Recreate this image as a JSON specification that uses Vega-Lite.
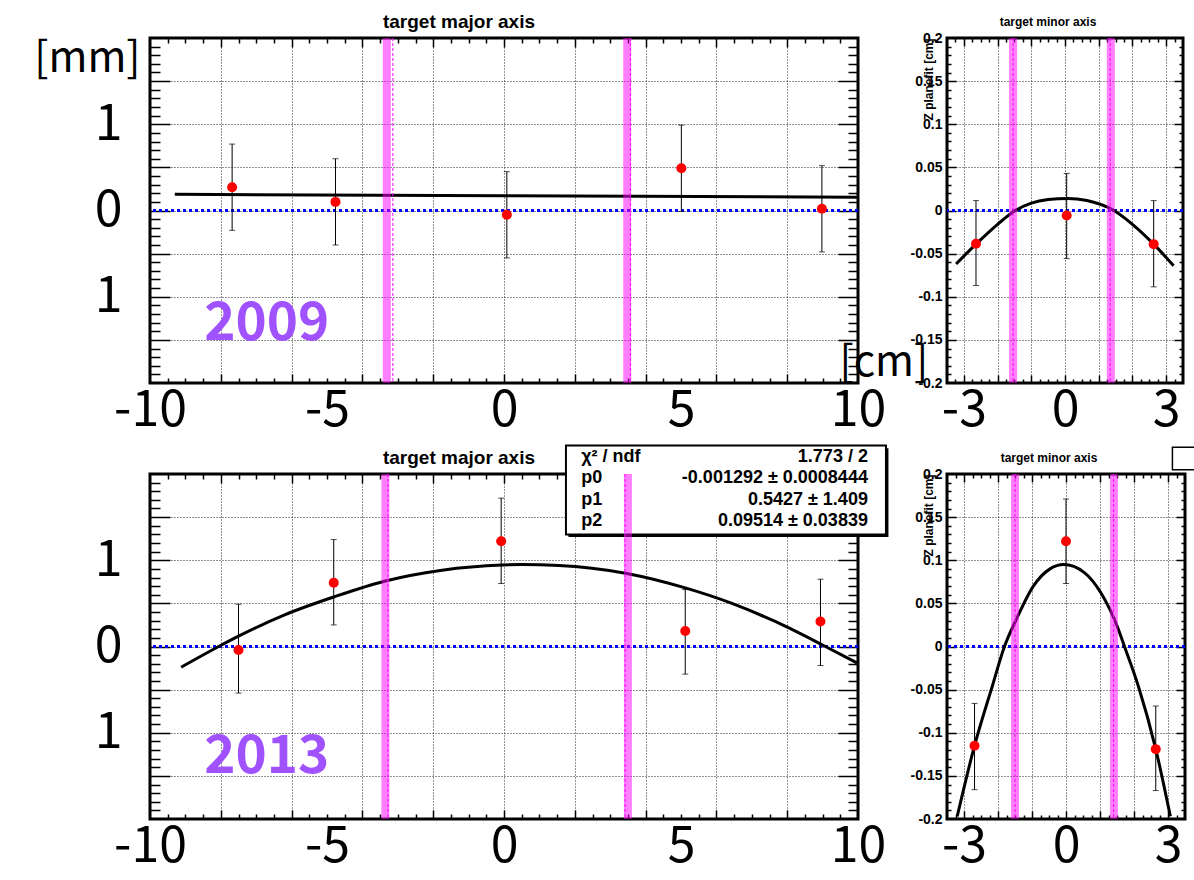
{
"$schema": "https://vega.github.io/schema/vega-lite/v6.json",
"background": "white",
"padding": {"left": 32, "top": 11, "right": 0, "bottom": 0},
"config": {"view": {"stroke": "black", "strokeWidth": 3}, "axis": {"labelColor": "black", "titleColor": "black", "tickColor": "black"}, "title": {"color": "black"}},
"datasets": {
"p09": [{"x": -7.68, "y": 0.27, "lo": -0.23, "hi": 0.77}, {"x": -4.76, "y": 0.10, "lo": -0.40, "hi": 0.60}, {"x": 0.08, "y": -0.05, "lo": -0.55, "hi": 0.45}, {"x": 5.01, "y": 0.49, "lo": -0.01, "hi": 0.99}, {"x": 8.98, "y": 0.02, "lo": -0.48, "hi": 0.52}],
"fit09": [{"x": -9.3, "y": 0.187}, {"x": 0, "y": 0.17}, {"x": 10, "y": 0.154}],
"b09": [{"band": -3.31, "edge": -3.14}, {"band": 3.48, "edge": 3.57}],
"pm09": [{"x": -2.64, "y": -0.0385, "lo": -0.087, "hi": 0.0115}, {"x": 0.05, "y": -0.0058, "lo": -0.0558, "hi": 0.043}, {"x": 2.63, "y": -0.039, "lo": -0.0885, "hi": 0.0115}],
"fitm09": [{"x": -3.23, "y": -0.062}, {"x": -2.64, "y": -0.039}, {"x": -2.0, "y": -0.016}, {"x": -1.55, "y": -0.002}, {"x": -1.0, "y": 0.0085}, {"x": -0.5, "y": 0.0127}, {"x": 0.08, "y": 0.014}, {"x": 0.65, "y": 0.0115}, {"x": 1.45, "y": 0.0}, {"x": 2.0, "y": -0.016}, {"x": 2.63, "y": -0.039}, {"x": 3.22, "y": -0.064}],
"bm09": [{"band": -1.54, "edge": -1.54}, {"band": 1.36, "edge": 1.34}],
"p13": [{"x": -7.5, "y": -0.04, "lo": -0.54, "hi": 0.49}, {"x": -4.81, "y": 0.74, "lo": 0.25, "hi": 1.24}, {"x": -0.08, "y": 1.22, "lo": 0.73, "hi": 1.72}, {"x": 5.12, "y": 0.18, "lo": -0.32, "hi": 0.66}, {"x": 8.94, "y": 0.29, "lo": -0.22, "hi": 0.78}],
"fit13": [{"x": -9.12, "y": -0.24}, {"x": -8.06, "y": 0.0}, {"x": -7.5, "y": 0.12}, {"x": -6.18, "y": 0.37}, {"x": -4.77, "y": 0.58}, {"x": -3.35, "y": 0.76}, {"x": -1.75, "y": 0.885}, {"x": -0.06, "y": 0.945}, {"x": 0.5, "y": 0.95}, {"x": 1.55, "y": 0.94}, {"x": 3.43, "y": 0.85}, {"x": 5.12, "y": 0.68}, {"x": 6.44, "y": 0.5}, {"x": 7.66, "y": 0.29}, {"x": 9.08, "y": 0.0}, {"x": 9.97, "y": -0.19}],
"b13": [{"band": -3.35, "edge": -3.28}, {"band": 3.5, "edge": 3.42}],
"pm13": [{"x": -2.69, "y": -0.115, "lo": -0.166, "hi": -0.066}, {"x": 0.0, "y": 0.122, "lo": 0.073, "hi": 0.171}, {"x": 2.64, "y": -0.119, "lo": -0.167, "hi": -0.069}],
"fitm13": [{"x": -3.2, "y": -0.197}, {"x": -2.69, "y": -0.115}, {"x": -2.16, "y": -0.045}, {"x": -1.81, "y": 0}, {"x": -1.46, "y": 0.0315}, {"x": -0.96, "y": 0.07}, {"x": -0.47, "y": 0.09}, {"x": -0.07, "y": 0.095}, {"x": 0.53, "y": 0.086}, {"x": 1.03, "y": 0.062}, {"x": 1.52, "y": 0.022}, {"x": 1.72, "y": 0}, {"x": 2.12, "y": -0.045}, {"x": 2.64, "y": -0.119}, {"x": 3.07, "y": -0.197}],
"bm13": [{"band": -1.5, "edge": -1.5}, {"band": 1.41, "edge": 1.4}],
"stats": [{"row": 0, "name": "χ² / ndf", "value": "1.773 / 2"}, {"row": 1, "name": "p0", "value": "-0.001292 ± 0.0008444"}, {"row": 2, "name": "p1", "value": "0.5427 ± 1.409"}, {"row": 3, "name": "p2", "value": "0.09514 ± 0.03839"}],
"y09": [{"label": "2009"}],
"y13": [{"label": "2013"}]
},
"columns": 2,
"spacing": {"row": 91, "column": 89},
"bounds": "flush",
"concat": [
{
"width": 708, "height": 345,
"title": {"text": "target major axis", "font": "Liberation Sans", "fontSize": 19, "fontWeight": "bold", "anchor": "middle", "dx": -45, "offset": -12.5, "baseline": "alphabetic"},
"resolve": {"axis": {"x": "independent", "y": "independent"}},
"layer": [
{"data": {"values": [{}]}, "mark": {"type": "rule", "color": "#0000ff", "strokeWidth": 3, "strokeDash": [3, 3]}, "encoding": {"y": {"datum": 0, "type": "quantitative", "scale": {"domain": [-2, 2], "nice": false, "zero": false}, "axis": null}}},
{"data": {"name": "fit09"}, "mark": {"type": "line", "color": "black", "strokeWidth": 3, "clip": true},
 "encoding": {
  "x": {"field": "x", "type": "quantitative", "scale": {"domain": [-10, 10], "nice": false, "zero": false}, "axis": {"orient": "bottom", "values": [-8, -6, -4, -2, 0, 2, 4, 6, 8], "grid": true, "gridColor": "#222", "gridDash": [1, 2], "gridWidth": 1, "ticks": true, "tickSize": -9, "tickWidth": 1.5, "labels": false, "domain": false, "title": null}},
  "y": {"field": "y", "type": "quantitative", "scale": {"domain": [-2, 2], "nice": false, "zero": false}, "axis": {"orient": "left", "values": [-1.5, -1, -0.5, 0, 0.5, 1, 1.5], "grid": true, "gridColor": "#222", "gridDash": [1, 2], "gridWidth": 1, "ticks": true, "tickSize": -20, "tickWidth": 1.5, "labels": false, "domain": false, "title": null}}}},
{"data": {"name": "b09"}, "mark": {"type": "rule", "color": "#ff00ff", "opacity": 0.5, "strokeWidth": 8}, "encoding": {"x": {"field": "band", "type": "quantitative", "axis": null}}},
{"data": {"name": "b09"}, "mark": {"type": "rule", "color": "#ff00ff", "strokeWidth": 1, "strokeDash": [3, 2]}, "encoding": {"x": {"field": "edge", "type": "quantitative", "axis": null}}},
{"data": {"name": "p09"}, "mark": {"type": "rule", "color": "black", "strokeWidth": 1},
 "encoding": {
  "x": {"field": "x", "type": "quantitative", "axis": {"orient": "bottom", "values": [-9.5, -9, -8.5, -7.5, -7, -6.5, -5.5, -5, -4.5, -3.5, -3, -2.5, -1.5, -1, -0.5, 0.5, 1, 1.5, 2.5, 3, 3.5, 4.5, 5, 5.5, 6.5, 7, 7.5, 8.5, 9, 9.5], "grid": false, "ticks": true, "tickSize": -5, "tickWidth": 1.5, "labels": false, "domain": false, "title": null}},
  "y": {"field": "lo", "type": "quantitative", "axis": {"orient": "left", "values": [-1.9, -1.8, -1.7, -1.6, -1.4, -1.3, -1.2, -1.1, -0.9, -0.8, -0.7, -0.6, -0.4, -0.3, -0.2, -0.1, 0.1, 0.2, 0.3, 0.4, 0.6, 0.7, 0.8, 0.9, 1.1, 1.2, 1.3, 1.4, 1.6, 1.7, 1.8, 1.9], "grid": false, "ticks": true, "tickSize": -10, "tickWidth": 1.5, "labels": false, "domain": false, "title": null}},
  "y2": {"field": "hi"}}},
{"data": {"name": "p09"}, "mark": {"type": "tick", "orient": "horizontal", "size": 6, "thickness": 1, "color": "black"},
 "encoding": {
  "x": {"field": "x", "type": "quantitative", "axis": {"orient": "top", "values": [-8, -6, -4, -2, 0, 2, 4, 6, 8], "grid": false, "ticks": true, "tickSize": -9, "tickWidth": 1.5, "labels": false, "domain": false, "title": null}},
  "y": {"field": "hi", "type": "quantitative", "axis": {"orient": "right", "values": [-1.5, -1, -0.5, 0, 0.5, 1, 1.5], "grid": false, "ticks": true, "tickSize": -20, "tickWidth": 1.5, "labels": false, "domain": false, "title": null}}}},
{"data": {"name": "p09"}, "mark": {"type": "tick", "orient": "horizontal", "size": 6, "thickness": 1, "color": "black"},
 "encoding": {
  "x": {"field": "x", "type": "quantitative", "axis": {"orient": "top", "values": [-9.5, -9, -8.5, -7.5, -7, -6.5, -5.5, -5, -4.5, -3.5, -3, -2.5, -1.5, -1, -0.5, 0.5, 1, 1.5, 2.5, 3, 3.5, 4.5, 5, 5.5, 6.5, 7, 7.5, 8.5, 9, 9.5], "grid": false, "ticks": true, "tickSize": -5, "tickWidth": 1.5, "labels": false, "domain": false, "title": null}},
  "y": {"field": "lo", "type": "quantitative", "axis": {"orient": "right", "values": [-1.9, -1.8, -1.7, -1.6, -1.4, -1.3, -1.2, -1.1, -0.9, -0.8, -0.7, -0.6, -0.4, -0.3, -0.2, -0.1, 0.1, 0.2, 0.3, 0.4, 0.6, 0.7, 0.8, 0.9, 1.1, 1.2, 1.3, 1.4, 1.6, 1.7, 1.8, 1.9], "grid": false, "ticks": true, "tickSize": -10, "tickWidth": 1.5, "labels": false, "domain": false, "title": null}}}},
{"data": {"name": "p09"}, "mark": {"type": "circle", "color": "#ff0000", "size": 100, "opacity": 1},
 "encoding": {
  "x": {"field": "x", "type": "quantitative", "axis": {"orient": "bottom", "values": [-10, -5, 0, 5, 10], "labelExpr": "datum.value + ''", "labelFont": "Noto Sans CJK JP", "labelFontSize": 50, "labelPadding": 2, "labelBaseline": "top", "labelOverlap": false, "labelFlush": false, "labelBound": false, "ticks": false, "grid": false, "domain": false, "title": "[cm]", "titleFont": "Noto Sans CJK JP", "titleFontSize": 42, "titleFontWeight": "normal", "titleAngle": 0, "titleAlign": "left", "titleBaseline": "alphabetic", "titleX": 689, "titleY": -8}},
  "y": {"field": "y", "type": "quantitative", "axis": {"orient": "left", "values": [-1, 0, 1], "labelExpr": "datum.value == 0 ? '0' : '1'", "labelFont": "Noto Sans CJK JP", "labelFontSize": 50, "labelPadding": 28, "labelAlign": "right", "labelBaseline": "middle", "labelOverlap": false, "labelFlush": false, "labelBound": false, "ticks": false, "grid": false, "domain": false, "title": "[mm]", "titleFont": "Noto Sans CJK JP", "titleFontSize": 42, "titleFontWeight": "normal", "titleAngle": 0, "titleAlign": "right", "titleBaseline": "alphabetic", "titleX": -10, "titleY": 33}}}},
{"data": {"name": "y09"}, "mark": {"type": "text", "font": "Noto Sans CJK JP", "fontSize": 53, "fontWeight": "bold", "color": "#a152ff", "align": "center", "baseline": "alphabetic"},
 "encoding": {"x": {"datum": -6.7, "type": "quantitative", "axis": null}, "y": {"datum": -1.5, "type": "quantitative", "axis": null}, "text": {"field": "label"}}}
]
},
{
"width": 236, "height": 345,
"title": {"text": "target minor axis", "font": "Liberation Sans", "fontSize": 12, "fontWeight": "bold", "anchor": "middle", "dx": -17, "offset": -6.5, "baseline": "alphabetic"},
"resolve": {"axis": {"x": "independent", "y": "independent"}},
"layer": [
{"data": {"values": [{}]}, "mark": {"type": "rule", "color": "#0000ff", "strokeWidth": 3, "strokeDash": [3, 3]}, "encoding": {"y": {"datum": 0, "type": "quantitative", "scale": {"domain": [-0.2, 0.2], "nice": false, "zero": false}, "axis": null}}},
{"data": {"name": "fitm09"}, "mark": {"type": "line", "color": "black", "strokeWidth": 3, "clip": true, "interpolate": "monotone"},
 "encoding": {
  "x": {"field": "x", "type": "quantitative", "scale": {"domain": [-3.5, 3.5], "nice": false, "zero": false}, "axis": {"orient": "bottom", "values": [-3, -2, -1, 0, 1, 2, 3], "grid": true, "gridColor": "#222", "gridDash": [1, 2], "gridWidth": 1, "ticks": true, "tickSize": -8, "tickWidth": 1.5, "labels": false, "domain": false, "title": null}},
  "y": {"field": "y", "type": "quantitative", "scale": {"domain": [-0.2, 0.2], "nice": false, "zero": false}, "axis": {"orient": "left", "values": [-0.15, -0.1, -0.05, 0, 0.05, 0.1, 0.15], "grid": true, "gridColor": "#222", "gridDash": [1, 2], "gridWidth": 1, "ticks": true, "tickSize": -9, "tickWidth": 1.5, "labels": false, "domain": false, "title": null}}}},
{"data": {"name": "bm09"}, "mark": {"type": "rule", "color": "#ff00ff", "opacity": 0.5, "strokeWidth": 8}, "encoding": {"x": {"field": "band", "type": "quantitative", "axis": null}}},
{"data": {"name": "bm09"}, "mark": {"type": "rule", "color": "#ff00ff", "strokeWidth": 1, "strokeDash": [3, 2]}, "encoding": {"x": {"field": "edge", "type": "quantitative", "axis": null}}},
{"data": {"name": "pm09"}, "mark": {"type": "rule", "color": "black", "strokeWidth": 1},
 "encoding": {
  "x": {"field": "x", "type": "quantitative", "axis": {"orient": "bottom", "values": [-3.25, -2.75, -2.5, -2.25, -1.75, -1.5, -1.25, -0.75, -0.5, -0.25, 0.25, 0.5, 0.75, 1.25, 1.5, 1.75, 2.25, 2.5, 2.75, 3.25], "grid": false, "ticks": true, "tickSize": -4, "tickWidth": 1.5, "labels": false, "domain": false, "title": null}},
  "y": {"field": "lo", "type": "quantitative", "axis": {"orient": "left", "values": [-0.19, -0.18, -0.17, -0.16, -0.14, -0.13, -0.12, -0.11, -0.09, -0.08, -0.07, -0.06, -0.04, -0.03, -0.02, -0.01, 0.01, 0.02, 0.03, 0.04, 0.06, 0.07, 0.08, 0.09, 0.11, 0.12, 0.13, 0.14, 0.16, 0.17, 0.18, 0.19], "grid": false, "ticks": true, "tickSize": -4, "tickWidth": 1.5, "labels": false, "domain": false, "title": null}},
  "y2": {"field": "hi"}}},
{"data": {"name": "pm09"}, "mark": {"type": "tick", "orient": "horizontal", "size": 6, "thickness": 1, "color": "black"},
 "encoding": {
  "x": {"field": "x", "type": "quantitative", "axis": {"orient": "top", "values": [-3, -2, -1, 0, 1, 2, 3], "grid": false, "ticks": true, "tickSize": -8, "tickWidth": 1.5, "labels": false, "domain": false, "title": null}},
  "y": {"field": "hi", "type": "quantitative", "axis": {"orient": "right", "values": [-0.15, -0.1, -0.05, 0, 0.05, 0.1, 0.15], "grid": false, "ticks": true, "tickSize": -9, "tickWidth": 1.5, "labels": false, "domain": false, "title": null}}}},
{"data": {"name": "pm09"}, "mark": {"type": "tick", "orient": "horizontal", "size": 6, "thickness": 1, "color": "black"},
 "encoding": {
  "x": {"field": "x", "type": "quantitative", "axis": {"orient": "top", "values": [-3.25, -2.75, -2.5, -2.25, -1.75, -1.5, -1.25, -0.75, -0.5, -0.25, 0.25, 0.5, 0.75, 1.25, 1.5, 1.75, 2.25, 2.5, 2.75, 3.25], "grid": false, "ticks": true, "tickSize": -4, "tickWidth": 1.5, "labels": false, "domain": false, "title": null}},
  "y": {"field": "lo", "type": "quantitative", "axis": {"orient": "right", "values": [-0.19, -0.18, -0.17, -0.16, -0.14, -0.13, -0.12, -0.11, -0.09, -0.08, -0.07, -0.06, -0.04, -0.03, -0.02, -0.01, 0.01, 0.02, 0.03, 0.04, 0.06, 0.07, 0.08, 0.09, 0.11, 0.12, 0.13, 0.14, 0.16, 0.17, 0.18, 0.19], "grid": false, "ticks": true, "tickSize": -4, "tickWidth": 1.5, "labels": false, "domain": false, "title": null}}}},
{"data": {"name": "pm09"}, "mark": {"type": "circle", "color": "#ff0000", "size": 100, "opacity": 1},
 "encoding": {
  "x": {"field": "x", "type": "quantitative", "axis": {"orient": "bottom", "values": [-3, 0, 3], "labelExpr": "datum.value + ''", "labelFont": "Noto Sans CJK JP", "labelFontSize": 50, "labelPadding": 2, "labelBaseline": "top", "labelOverlap": false, "labelFlush": false, "labelBound": false, "ticks": false, "grid": false, "domain": false, "title": null}},
  "y": {"field": "y", "type": "quantitative", "axis": {"orient": "left", "values": [-0.2, -0.15, -0.1, -0.05, 0, 0.05, 0.1, 0.15, 0.2], "labelExpr": "datum.value + ''", "labelFont": "Liberation Sans", "labelFontSize": 14, "labelFontWeight": "bold", "labelPadding": 5, "labelAlign": "right", "labelBaseline": "middle", "labelOverlap": false, "labelFlush": false, "labelBound": false, "ticks": false, "grid": false, "domain": false, "title": "Z planefit [cm]", "titleFont": "Liberation Sans", "titleFontSize": 12, "titleFontWeight": "bold", "titleAngle": 270, "titleAlign": "right", "titleBaseline": "alphabetic", "titleX": -15, "titleY": 0}}}}
]
},
{
"width": 708, "height": 345,
"title": {"text": "target major axis", "font": "Liberation Sans", "fontSize": 19, "fontWeight": "bold", "anchor": "middle", "dx": -45, "offset": -38.5, "baseline": "alphabetic"},
"resolve": {"axis": {"x": "independent", "y": "independent"}},
"layer": [
{"data": {"values": [{}]}, "mark": {"type": "rect", "fill": "black"},
 "encoding": {"x": {"datum": 1.82, "type": "quantitative", "scale": {"domain": [-10, 10], "nice": false, "zero": false}, "axis": null}, "x2": {"datum": 10.86}, "y": {"datum": 2.30, "type": "quantitative", "scale": {"domain": [-2, 2], "nice": false, "zero": false}, "axis": null}, "y2": {"datum": 1.27}}},
{"data": {"values": [{}]}, "mark": {"type": "rect", "fill": "white", "stroke": "black", "strokeWidth": 2},
 "encoding": {"x": {"datum": 1.75, "type": "quantitative", "axis": null}, "x2": {"datum": 10.79}, "y": {"datum": 2.33, "type": "quantitative", "axis": null}, "y2": {"datum": 1.30}}},
{"data": {"name": "stats"}, "mark": {"type": "text", "align": "left", "baseline": "alphabetic", "font": "Liberation Sans", "fontSize": 18, "fontWeight": "bold", "color": "black"},
 "encoding": {"x": {"datum": 2.18, "type": "quantitative", "axis": null}, "y": {"datum": 2.14, "type": "quantitative", "axis": null}, "yOffset": {"field": "row", "type": "quantitative", "scale": {"domain": [0, 3], "range": [0, 64.5]}}, "text": {"field": "name"}}},
{"data": {"name": "stats"}, "mark": {"type": "text", "align": "right", "baseline": "alphabetic", "font": "Liberation Sans", "fontSize": 18, "fontWeight": "bold", "color": "black"},
 "encoding": {"x": {"datum": 10.28, "type": "quantitative", "axis": null}, "y": {"datum": 2.14, "type": "quantitative", "axis": null}, "yOffset": {"field": "row", "type": "quantitative", "scale": {"domain": [0, 3], "range": [0, 64.5]}}, "text": {"field": "value"}}},
{"data": {"values": [{}]}, "mark": {"type": "rule", "color": "#0000ff", "strokeWidth": 3, "strokeDash": [3, 3]}, "encoding": {"y": {"datum": 0, "type": "quantitative", "axis": null}}},
{"data": {"name": "fit13"}, "mark": {"type": "line", "color": "black", "strokeWidth": 3, "clip": true, "interpolate": "monotone"},
 "encoding": {
  "x": {"field": "x", "type": "quantitative", "axis": {"orient": "bottom", "values": [-8, -6, -4, -2, 0, 2, 4, 6, 8], "grid": true, "gridColor": "#222", "gridDash": [1, 2], "gridWidth": 1, "ticks": true, "tickSize": -9, "tickWidth": 1.5, "labels": false, "domain": false, "title": null}},
  "y": {"field": "y", "type": "quantitative", "axis": {"orient": "left", "values": [-1.5, -1, -0.5, 0, 0.5, 1, 1.5], "grid": true, "gridColor": "#222", "gridDash": [1, 2], "gridWidth": 1, "ticks": true, "tickSize": -20, "tickWidth": 1.5, "labels": false, "domain": false, "title": null}}}},
{"data": {"name": "b13"}, "mark": {"type": "rule", "color": "#ff00ff", "opacity": 0.5, "strokeWidth": 8}, "encoding": {"x": {"field": "band", "type": "quantitative", "axis": null}}},
{"data": {"name": "b13"}, "mark": {"type": "rule", "color": "#ff00ff", "strokeWidth": 1, "strokeDash": [3, 2]}, "encoding": {"x": {"field": "edge", "type": "quantitative", "axis": null}}},
{"data": {"name": "p13"}, "mark": {"type": "rule", "color": "black", "strokeWidth": 1},
 "encoding": {
  "x": {"field": "x", "type": "quantitative", "axis": {"orient": "bottom", "values": [-9.5, -9, -8.5, -7.5, -7, -6.5, -5.5, -5, -4.5, -3.5, -3, -2.5, -1.5, -1, -0.5, 0.5, 1, 1.5, 2.5, 3, 3.5, 4.5, 5, 5.5, 6.5, 7, 7.5, 8.5, 9, 9.5], "grid": false, "ticks": true, "tickSize": -5, "tickWidth": 1.5, "labels": false, "domain": false, "title": null}},
  "y": {"field": "lo", "type": "quantitative", "axis": {"orient": "left", "values": [-1.9, -1.8, -1.7, -1.6, -1.4, -1.3, -1.2, -1.1, -0.9, -0.8, -0.7, -0.6, -0.4, -0.3, -0.2, -0.1, 0.1, 0.2, 0.3, 0.4, 0.6, 0.7, 0.8, 0.9, 1.1, 1.2, 1.3, 1.4, 1.6, 1.7, 1.8, 1.9], "grid": false, "ticks": true, "tickSize": -10, "tickWidth": 1.5, "labels": false, "domain": false, "title": null}},
  "y2": {"field": "hi"}}},
{"data": {"name": "p13"}, "mark": {"type": "tick", "orient": "horizontal", "size": 6, "thickness": 1, "color": "black"},
 "encoding": {
  "x": {"field": "x", "type": "quantitative", "axis": {"orient": "top", "values": [-8, -6, -4, -2, 0, 2, 4, 6, 8], "grid": false, "ticks": true, "tickSize": -9, "tickWidth": 1.5, "labels": false, "domain": false, "title": null}},
  "y": {"field": "hi", "type": "quantitative", "axis": {"orient": "right", "values": [-1.5, -1, -0.5, 0, 0.5, 1, 1.5], "grid": false, "ticks": true, "tickSize": -20, "tickWidth": 1.5, "labels": false, "domain": false, "title": null}}}},
{"data": {"name": "p13"}, "mark": {"type": "tick", "orient": "horizontal", "size": 6, "thickness": 1, "color": "black"},
 "encoding": {
  "x": {"field": "x", "type": "quantitative", "axis": {"orient": "top", "values": [-9.5, -9, -8.5, -7.5, -7, -6.5, -5.5, -5, -4.5, -3.5, -3, -2.5, -1.5, -1, -0.5, 0.5, 1, 1.5, 2.5, 3, 3.5, 4.5, 5, 5.5, 6.5, 7, 7.5, 8.5, 9, 9.5], "grid": false, "ticks": true, "tickSize": -5, "tickWidth": 1.5, "labels": false, "domain": false, "title": null}},
  "y": {"field": "lo", "type": "quantitative", "axis": {"orient": "right", "values": [-1.9, -1.8, -1.7, -1.6, -1.4, -1.3, -1.2, -1.1, -0.9, -0.8, -0.7, -0.6, -0.4, -0.3, -0.2, -0.1, 0.1, 0.2, 0.3, 0.4, 0.6, 0.7, 0.8, 0.9, 1.1, 1.2, 1.3, 1.4, 1.6, 1.7, 1.8, 1.9], "grid": false, "ticks": true, "tickSize": -10, "tickWidth": 1.5, "labels": false, "domain": false, "title": null}}}},
{"data": {"name": "p13"}, "mark": {"type": "circle", "color": "#ff0000", "size": 100, "opacity": 1},
 "encoding": {
  "x": {"field": "x", "type": "quantitative", "axis": {"orient": "bottom", "values": [-10, -5, 0, 5, 10], "labelExpr": "datum.value + ''", "labelFont": "Noto Sans CJK JP", "labelFontSize": 50, "labelPadding": 2, "labelBaseline": "top", "labelOverlap": false, "labelFlush": false, "labelBound": false, "ticks": false, "grid": false, "domain": false, "title": null}},
  "y": {"field": "y", "type": "quantitative", "axis": {"orient": "left", "values": [-1, 0, 1], "labelExpr": "datum.value == 0 ? '0' : '1'", "labelFont": "Noto Sans CJK JP", "labelFontSize": 50, "labelPadding": 28, "labelAlign": "right", "labelBaseline": "middle", "labelOverlap": false, "labelFlush": false, "labelBound": false, "ticks": false, "grid": false, "domain": false, "title": null}}}},
{"data": {"name": "y13"}, "mark": {"type": "text", "font": "Noto Sans CJK JP", "fontSize": 53, "fontWeight": "bold", "color": "#a152ff", "align": "center", "baseline": "alphabetic"},
 "encoding": {"x": {"datum": -6.7, "type": "quantitative", "axis": null}, "y": {"datum": -1.47, "type": "quantitative", "axis": null}, "text": {"field": "label"}}}
]
},
{
"width": 238, "height": 345,
"title": {"text": "target minor axis", "font": "Liberation Sans", "fontSize": 12, "fontWeight": "bold", "anchor": "middle", "dx": -17, "offset": -27, "baseline": "alphabetic"},
"resolve": {"axis": {"x": "independent", "y": "independent"}},
"layer": [
{"data": {"values": [{}]}, "mark": {"type": "rule", "color": "#0000ff", "strokeWidth": 3, "strokeDash": [3, 3]}, "encoding": {"y": {"datum": 0, "type": "quantitative", "scale": {"domain": [-0.2, 0.2], "nice": false, "zero": false}, "axis": null}}},
{"data": {"name": "fitm13"}, "mark": {"type": "line", "color": "black", "strokeWidth": 3, "clip": true, "interpolate": "monotone"},
 "encoding": {
  "x": {"field": "x", "type": "quantitative", "scale": {"domain": [-3.5, 3.5], "nice": false, "zero": false}, "axis": {"orient": "bottom", "values": [-3, -2, -1, 0, 1, 2, 3], "grid": true, "gridColor": "#222", "gridDash": [1, 2], "gridWidth": 1, "ticks": true, "tickSize": -8, "tickWidth": 1.5, "labels": false, "domain": false, "title": null}},
  "y": {"field": "y", "type": "quantitative", "scale": {"domain": [-0.2, 0.2], "nice": false, "zero": false}, "axis": {"orient": "left", "values": [-0.15, -0.1, -0.05, 0, 0.05, 0.1, 0.15], "grid": true, "gridColor": "#222", "gridDash": [1, 2], "gridWidth": 1, "ticks": true, "tickSize": -9, "tickWidth": 1.5, "labels": false, "domain": false, "title": null}}}},
{"data": {"name": "bm13"}, "mark": {"type": "rule", "color": "#ff00ff", "opacity": 0.5, "strokeWidth": 8}, "encoding": {"x": {"field": "band", "type": "quantitative", "axis": null}}},
{"data": {"name": "bm13"}, "mark": {"type": "rule", "color": "#ff00ff", "strokeWidth": 1, "strokeDash": [3, 2]}, "encoding": {"x": {"field": "edge", "type": "quantitative", "axis": null}}},
{"data": {"name": "pm13"}, "mark": {"type": "rule", "color": "black", "strokeWidth": 1},
 "encoding": {
  "x": {"field": "x", "type": "quantitative", "axis": {"orient": "bottom", "values": [-3.25, -2.75, -2.5, -2.25, -1.75, -1.5, -1.25, -0.75, -0.5, -0.25, 0.25, 0.5, 0.75, 1.25, 1.5, 1.75, 2.25, 2.5, 2.75, 3.25], "grid": false, "ticks": true, "tickSize": -4, "tickWidth": 1.5, "labels": false, "domain": false, "title": null}},
  "y": {"field": "lo", "type": "quantitative", "axis": {"orient": "left", "values": [-0.19, -0.18, -0.17, -0.16, -0.14, -0.13, -0.12, -0.11, -0.09, -0.08, -0.07, -0.06, -0.04, -0.03, -0.02, -0.01, 0.01, 0.02, 0.03, 0.04, 0.06, 0.07, 0.08, 0.09, 0.11, 0.12, 0.13, 0.14, 0.16, 0.17, 0.18, 0.19], "grid": false, "ticks": true, "tickSize": -4, "tickWidth": 1.5, "labels": false, "domain": false, "title": null}},
  "y2": {"field": "hi"}}},
{"data": {"name": "pm13"}, "mark": {"type": "tick", "orient": "horizontal", "size": 6, "thickness": 1, "color": "black"},
 "encoding": {
  "x": {"field": "x", "type": "quantitative", "axis": {"orient": "top", "values": [-3, -2, -1, 0, 1, 2, 3], "grid": false, "ticks": true, "tickSize": -8, "tickWidth": 1.5, "labels": false, "domain": false, "title": null}},
  "y": {"field": "hi", "type": "quantitative", "axis": {"orient": "right", "values": [-0.15, -0.1, -0.05, 0, 0.05, 0.1, 0.15], "grid": false, "ticks": true, "tickSize": -9, "tickWidth": 1.5, "labels": false, "domain": false, "title": null}}}},
{"data": {"name": "pm13"}, "mark": {"type": "tick", "orient": "horizontal", "size": 6, "thickness": 1, "color": "black"},
 "encoding": {
  "x": {"field": "x", "type": "quantitative", "axis": {"orient": "top", "values": [-3.25, -2.75, -2.5, -2.25, -1.75, -1.5, -1.25, -0.75, -0.5, -0.25, 0.25, 0.5, 0.75, 1.25, 1.5, 1.75, 2.25, 2.5, 2.75, 3.25], "grid": false, "ticks": true, "tickSize": -4, "tickWidth": 1.5, "labels": false, "domain": false, "title": null}},
  "y": {"field": "lo", "type": "quantitative", "axis": {"orient": "right", "values": [-0.19, -0.18, -0.17, -0.16, -0.14, -0.13, -0.12, -0.11, -0.09, -0.08, -0.07, -0.06, -0.04, -0.03, -0.02, -0.01, 0.01, 0.02, 0.03, 0.04, 0.06, 0.07, 0.08, 0.09, 0.11, 0.12, 0.13, 0.14, 0.16, 0.17, 0.18, 0.19], "grid": false, "ticks": true, "tickSize": -4, "tickWidth": 1.5, "labels": false, "domain": false, "title": null}}}},
{"data": {"name": "pm13"}, "mark": {"type": "circle", "color": "#ff0000", "size": 100, "opacity": 1},
 "encoding": {
  "x": {"field": "x", "type": "quantitative", "axis": {"orient": "bottom", "values": [-3, 0, 3], "labelExpr": "datum.value + ''", "labelFont": "Noto Sans CJK JP", "labelFontSize": 50, "labelPadding": 2, "labelBaseline": "top", "labelOverlap": false, "labelFlush": false, "labelBound": false, "ticks": false, "grid": false, "domain": false, "title": null}},
  "y": {"field": "y", "type": "quantitative", "axis": {"orient": "left", "values": [-0.2, -0.15, -0.1, -0.05, 0, 0.05, 0.1, 0.15, 0.2], "labelExpr": "datum.value + ''", "labelFont": "Liberation Sans", "labelFontSize": 14, "labelFontWeight": "bold", "labelPadding": 5, "labelAlign": "right", "labelBaseline": "middle", "labelOverlap": false, "labelFlush": false, "labelBound": false, "ticks": false, "grid": false, "domain": false, "title": "Z planefit [cm]", "titleFont": "Liberation Sans", "titleFontSize": 12, "titleFontWeight": "bold", "titleAngle": 270, "titleAlign": "right", "titleBaseline": "alphabetic", "titleX": -15, "titleY": 0}}}},
{"data": {"values": [{}]}, "mark": {"type": "rect", "fill": "white", "stroke": "black", "strokeWidth": 1.5},
 "encoding": {"x": {"datum": 3.13, "type": "quantitative", "axis": null}, "x2": {"datum": 3.98}, "y": {"datum": 0.231, "type": "quantitative", "axis": null}, "y2": {"datum": 0.205}}}
]
}
]
}
